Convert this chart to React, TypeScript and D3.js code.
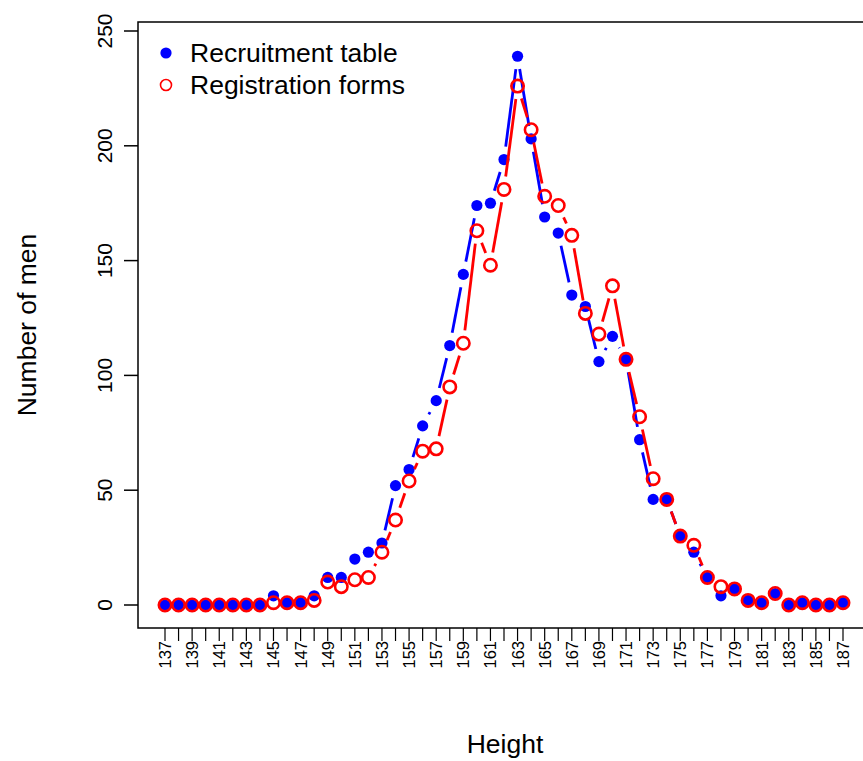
import React from "react";
import * as d3 from "d3";

const heights = d3.range(137, 188);
const recruitment = [0,0,0,0,0,0,0,0,4,1,1,4,12,12,20,23,27,52,59,78,89,113,144,174,175,194,239,203,169,162,135,130,106,117,107,72,46,46,30,23,12,4,7,2,1,5,0,1,0,0,1];
const registration = [0,0,0,0,0,0,0,0,1,1,1,2,10,8,11,12,23,37,54,67,68,95,114,163,148,181,226,207,178,174,161,127,118,139,107,82,55,46,30,26,12,8,7,2,1,5,0,1,0,0,1];
const yTicks = [0, 50, 100, 150, 200, 250];
const xTickLabels = d3.range(137, 188, 2);

const W = 863, H = 761;
const font = "'Liberation Sans', Arial, Helvetica, sans-serif";

function gappedSegments(pts: [number, number][], gap: number) {
  const segs: [number, number, number, number][] = [];
  for (let i = 0; i < pts.length - 1; i++) {
    const [x1, y1] = pts[i];
    const [x2, y2] = pts[i + 1];
    const dx = x2 - x1, dy = y2 - y1;
    const len = Math.hypot(dx, dy);
    if (len <= 2 * gap) continue;
    const ux = dx / len, uy = dy / len;
    segs.push([x1 + ux * gap, y1 + uy * gap, x2 - ux * gap, y2 - uy * gap]);
  }
  return segs;
}

export default function App() {
  const x = d3.scaleLinear().domain([137, 187]).range([165, 843]);
  const y = d3.scaleLinear().domain([0, 250]).range([605, 31]);
  const boxTop = 22, boxBottom = 628, boxLeft = 138, boxRight = 870;

  const bluePts: [number, number][] = heights.map((h, i) => [x(h), y(recruitment[i])]);
  const redPts: [number, number][] = heights.map((h, i) => [x(h), y(registration[i])]);
  const gap = 13;
  const blueSegs = gappedSegments(bluePts, gap);
  const redSegs = gappedSegments(redPts, gap);

  return (
    <svg width={W} height={H} style={{ position: "absolute", left: 0, top: 0, background: "#fff" }}>
      <rect x={0} y={0} width={W} height={H} fill="#fff" />
      <rect x={boxLeft} y={boxTop} width={boxRight - boxLeft} height={boxBottom - boxTop} fill="none" stroke="#000" strokeWidth={1.5} />
      {/* y axis */}
      {yTicks.map((t) => (
        <g key={"y" + t}>
          <line x1={boxLeft - 14} x2={boxLeft} y1={y(t)} y2={y(t)} stroke="#000" strokeWidth={1.5} />
          <text
            transform={`translate(${boxLeft - 26},${y(t)}) rotate(-90)`}
            textAnchor="middle"
            fontFamily={font}
            fontSize={21}
            fill="#000"
          >
            {t}
          </text>
        </g>
      ))}
      {/* x axis ticks */}
      {heights.map((h) => (
        <line key={"xt" + h} x1={x(h)} x2={x(h)} y1={boxBottom} y2={boxBottom + 13} stroke="#000" strokeWidth={1.2} />
      ))}
      {xTickLabels.map((h) => (
        <text
          key={"xl" + h}
          transform={`translate(${x(h) + 6},${boxBottom + 13}) rotate(-90)`}
          textAnchor="end"
          fontFamily={font}
          fontSize={16.5}
          fill="#000"
        >
          {h}
        </text>
      ))}
      <text x={505} y={753} textAnchor="middle" fontFamily={font} fontSize={26.5} fill="#000">Height</text>
      <text transform={`translate(36,${(boxTop + boxBottom) / 2}) rotate(-90)`} textAnchor="middle" fontFamily={font} fontSize={26.5} fill="#000">
        Number of men
      </text>
      {/* blue series */}
      {blueSegs.map((s, i) => (
        <line key={"bs" + i} x1={s[0]} y1={s[1]} x2={s[2]} y2={s[3]} stroke="#0000ff" strokeWidth={2.8} />
      ))}
      {bluePts.map((p, i) => (
        <circle key={"bp" + i} cx={p[0]} cy={p[1]} r={5.6} fill="#0000ff" />
      ))}
      {/* red series */}
      {redSegs.map((s, i) => (
        <line key={"rs" + i} x1={s[0]} y1={s[1]} x2={s[2]} y2={s[3]} stroke="#ff0000" strokeWidth={2.8} />
      ))}
      {redPts.map((p, i) => (
        <circle key={"rp" + i} cx={p[0]} cy={p[1]} r={6.2} fill="none" stroke="#ff0000" strokeWidth={2.6} />
      ))}
      {/* legend */}
      <circle cx={166} cy={53} r={5.6} fill="#0000ff" />
      <text x={190} y={62} fontFamily={font} fontSize={26.5} fill="#000">Recruitment table</text>
      <circle cx={166} cy={85} r={5.5} fill="none" stroke="#ff0000" strokeWidth={1.6} />
      <text x={190} y={94} fontFamily={font} fontSize={26.5} fill="#000">Registration forms</text>
    </svg>
  );
}
